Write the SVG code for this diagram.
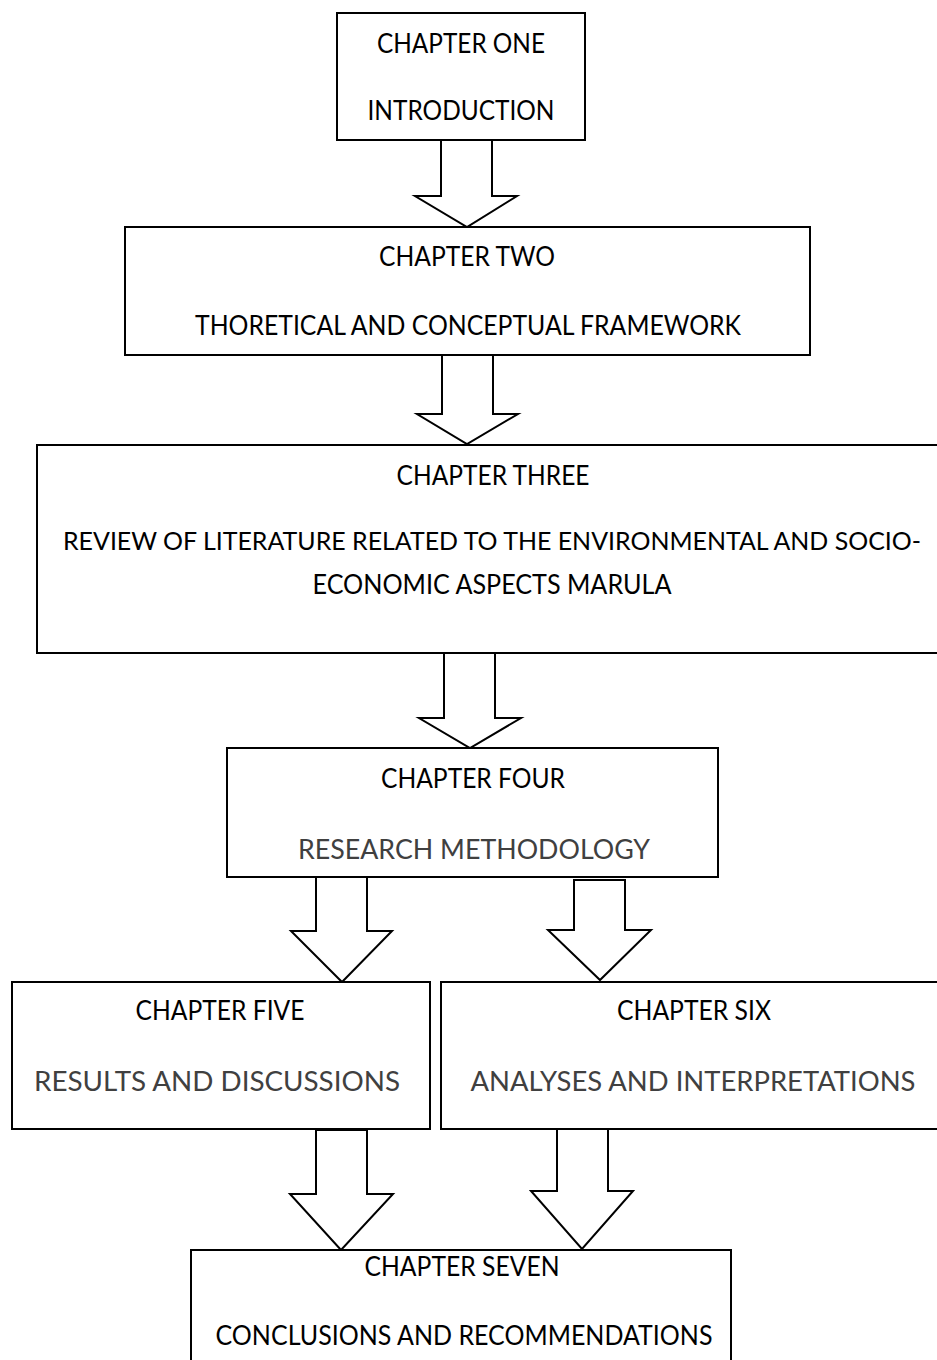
<svg xmlns="http://www.w3.org/2000/svg" width="937" height="1360" viewBox="0 0 937 1360">
  <style>
    rect.box { fill: #ffffff; stroke: #000000; stroke-width: 2; }
    .arrow { fill: #ffffff; stroke: #000000; stroke-width: 2; stroke-linejoin: miter; }
    text { font-family: Lato, "Liberation Sans", sans-serif; font-size: 26px; text-anchor: middle; fill: #000000; }
    text.sub { fill: #404040; font-size: 27px; }
    text.long { font-size: 25px; }
  </style>
  <rect width="937" height="1360" fill="#ffffff"/>

  <!-- block arrows between chapters -->
  <g id="connectors">
    <polygon class="arrow" points="441,140 492,140 492,196 517,196 467,227 415,196 441,196"/>
    <polygon class="arrow" points="442,355 493,355 493,414 518,414 467,444 417,414 442,414"/>
    <polygon class="arrow" points="444,653 495,653 495,718 521,718 470,748 419,718 444,718"/>
    <polygon class="arrow" points="316,877 367,877 367,931 392,931 342,982 291,931 316,931"/>
    <polygon class="arrow" points="574,880 625,880 625,930 651,930 600,980 548,930 574,930"/>
    <polygon class="arrow" points="316,1130 367,1130 367,1194 393,1194 341,1250 290,1194 316,1194"/>
    <polygon class="arrow" points="557,1129 608,1129 608,1191 633,1191 582,1249 531,1191 557,1191"/>
  </g>

  <g id="chapter-one">
    <rect class="box" x="337" y="13" width="248" height="127"/>
    <text x="461" y="53" textLength="168" lengthAdjust="spacingAndGlyphs">CHAPTER ONE</text>
    <text x="461" y="120" textLength="187" lengthAdjust="spacingAndGlyphs">INTRODUCTION</text>
  </g>

  <g id="chapter-two">
    <rect class="box" x="125" y="227" width="685" height="128"/>
    <text x="467" y="266" textLength="176" lengthAdjust="spacingAndGlyphs">CHAPTER TWO</text>
    <text x="468" y="335" textLength="546" lengthAdjust="spacingAndGlyphs">THORETICAL AND CONCEPTUAL FRAMEWORK</text>
  </g>

  <!-- this box runs past the right edge of the page -->
  <g id="chapter-three">
    <rect class="box" x="37" y="445" width="910" height="208"/>
    <text x="493" y="485" textLength="193" lengthAdjust="spacingAndGlyphs">CHAPTER THREE</text>
    <text class="long" x="492" y="550" textLength="858" lengthAdjust="spacingAndGlyphs">REVIEW OF LITERATURE RELATED TO THE ENVIRONMENTAL AND SOCIO-</text>
    <text x="492" y="594" textLength="359" lengthAdjust="spacingAndGlyphs">ECONOMIC ASPECTS MARULA</text>
  </g>

  <g id="chapter-four">
    <rect class="box" x="227" y="748" width="491" height="129"/>
    <text x="473" y="788" textLength="184" lengthAdjust="spacingAndGlyphs">CHAPTER FOUR</text>
    <text class="sub" x="474" y="859" textLength="352" lengthAdjust="spacingAndGlyphs">RESEARCH METHODOLOGY</text>
  </g>

  <g id="chapter-five">
    <rect class="box" x="12" y="982" width="418" height="147"/>
    <text x="220" y="1020" textLength="169" lengthAdjust="spacingAndGlyphs">CHAPTER FIVE</text>
    <text class="sub" x="217" y="1091" textLength="366" lengthAdjust="spacingAndGlyphs">RESULTS AND DISCUSSIONS</text>
  </g>

  <g id="chapter-six">
    <rect class="box" x="441" y="982" width="506" height="147"/>
    <text x="694" y="1020" textLength="154" lengthAdjust="spacingAndGlyphs">CHAPTER SIX</text>
    <text class="sub" x="693" y="1091" textLength="445" lengthAdjust="spacingAndGlyphs">ANALYSES AND INTERPRETATIONS</text>
  </g>

  <!-- this box runs past the bottom edge of the page -->
  <g id="chapter-seven">
    <rect class="box" x="191" y="1250" width="540" height="120"/>
    <text x="462" y="1276" textLength="195" lengthAdjust="spacingAndGlyphs">CHAPTER SEVEN</text>
    <text x="464" y="1345" textLength="497" lengthAdjust="spacingAndGlyphs">CONCLUSIONS AND RECOMMENDATIONS</text>
  </g>
</svg>
